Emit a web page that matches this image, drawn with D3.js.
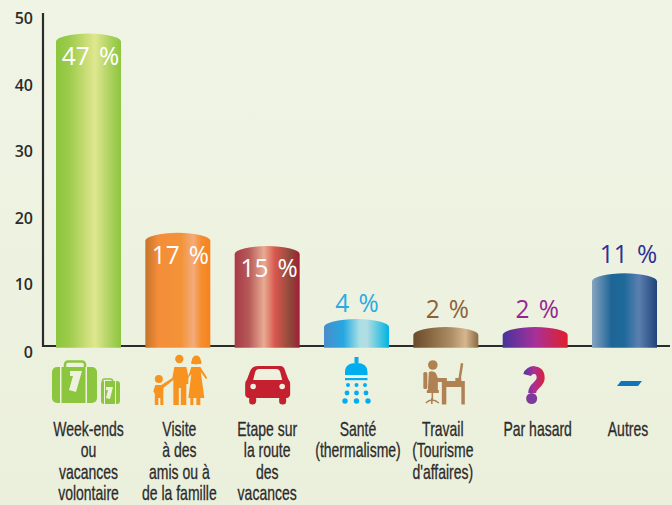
<!DOCTYPE html>
<html><head><meta charset="utf-8">
<script src="https://cdn.jsdelivr.net/npm/d3@7"></script>
<style>html,body{margin:0;padding:0;background:#eef2e0}svg{display:block}</style></head>
<body><div id="c"></div>
<script>
const categories=["w","v","e","s","t","h","a"];
const barTops=[47.2,17.2,15.2,4.2,3,3,11.1];
const valueLabels=["47 %","17 %","15 %","4 %","2 %","2 %","11 %"];
const valueColors=["#fff","#fff","#fff","#29abe2","#8c6239","#93278f","#2e3192"];
const tickLabels=[0,10,20,30,40,50];
const catLines=[
 ["Week-ends","ou","vacances","volontaire"],
 ["Visite","à des","amis ou à","de la famille"],
 ["Etape sur","la route","des","vacances"],
 ["Santé","(thermalisme)"],
 ["Travail","(Tourisme","d'affaires)"],
 ["Par hasard"],
 ["Autres"]];
const catShift=[0,1.5,0,1.5,-3,2.5,3.5];
const valueShift=[2,2.5,2,0.5,1.5,2,4];
const gradients=[
 [[0,"#8cc63f"],[.2,"#9ccb4a"],[.6,"#e0e78f"],[.8,"#b3d465"],[1,"#8cc63f"]],
 [[0,"#c4742a"],[.2,"#f58d3a"],[.55,"#f39338"],[.74,"#f3ac7c"],[.86,"#f68d2e"],[1,"#f5821f"]],
 [[0,"#a83a48"],[.22,"#b65a58"],[.45,"#e8ab92"],[.62,"#d9574e"],[.85,"#8e4a3a"],[1,"#a11c36"]],
 [[0,"#4a8ccb"],[.3,"#26a8e0"],[.55,"#a9e0e5"],[.66,"#b2dde2"],[1,"#00b4e1"]],
 [[0,"#6a4a2b"],[.3,"#8c6c44"],[.6,"#b09068"],[.8,"#d6b68e"],[1,"#8a6a42"]],
 [[0,"#45349a"],[.5,"#a8309a"],[1,"#e0202a"]],
 [[0,"#86a4c0"],[.3,"#1e6596"],[.5,"#1f6a9a"],[.72,"#5b80b0"],[1,"#1f4478"]]];

const W=672,H=505;
const svg=d3.select("#c").append("svg").attr("width",W).attr("height",H);
const defs=svg.append("defs");
const bg=defs.append("linearGradient").attr("id","bg").attr("x1",0).attr("y1",0).attr("x2",0).attr("y2",1);
bg.append("stop").attr("offset",0).attr("stop-color","#f0f4e5");
bg.append("stop").attr("offset",1).attr("stop-color","#ebf0dc");
svg.append("rect").attr("width",W).attr("height",H).attr("fill","url(#bg)");

const x=d3.scaleBand().domain(categories).range([56,657]).paddingInner(.2725);
const y=d3.scaleLinear().domain([0,50]).range([347,15]);
const bw=x.bandwidth(),cap=8;

gradients.forEach((g,i)=>{
 const lg=defs.append("linearGradient").attr("id","g"+i);
 g.forEach(s=>lg.append("stop").attr("offset",s[0]).attr("stop-color",s[1]));
});
const qg=defs.append("linearGradient").attr("id","qg").attr("gradientUnits","userSpaceOnUse")
 .attr("x1",522).attr("x2",546).attr("y1",0).attr("y2",0);
[[0,"#45349a"],[.5,"#a8309a"],[1,"#e0202a"]].forEach(s=>qg.append("stop").attr("offset",s[0]).attr("stop-color",s[1]));

// axes
const yAxis=d3.axisLeft(y).tickValues(tickLabels).tickSize(0).tickPadding(10);
const ya=svg.append("g").attr("transform","translate(43,0)").call(yAxis);
ya.select(".domain").attr("stroke","#2b2b2b").attr("stroke-width",2.2).attr("d","M0,13V347");
ya.selectAll("text").attr("font-family","'Open Sans'").attr("font-size",16).attr("font-weight",600).attr("fill","#2b2b2b").attr("dy","0.55em").attr("y",0)
 .attr("transform",d=>`translate(0,${d===0?2:0})`);
const xa=d3.axisBottom(x).tickSize(0).tickFormat("");
const xg=svg.append("g").attr("transform","translate(0,346)").call(xa);
xg.select(".domain").attr("stroke","#2b2b2b").attr("stroke-width",2.2).attr("d","M42,0H670");

// bars
svg.append("g").selectAll("path").data(categories).join("path")
 .attr("fill",(d,i)=>`url(#g${i})`)
 .attr("d",(d,i)=>{const l=x(d),t=y(barTops[i]);
   return `M${l},${y(0)+.8}V${t+cap}A${bw/2},${cap} 0 0 1 ${l+bw},${t+cap}V${y(0)+.8}Z`;});

// value labels
const valueBase=[65,264,277,312,318,318,263];
svg.append("g").selectAll("text").data(categories).join("text")
 .attr("text-anchor","middle").attr("font-family","'Open Sans'").attr("font-size",26).attr("font-weight",500).attr("word-spacing",3)
 .attr("fill",(d,i)=>valueColors[i])
 .attr("transform",(d,i)=>`translate(${x(d)+bw/2+valueShift[i]},${valueBase[i]}) scale(.94,1)`)
 .text((d,i)=>valueLabels[i]);

// category labels
const lab=svg.append("g");
categories.forEach((c,i)=>{
 lab.append("g").selectAll("text").data(catLines[i]).join("text")
  .attr("text-anchor","middle").attr("font-family","'Liberation Sans'")
  .attr("font-size",20).attr("fill","#2b2b2b").attr("stroke","#2b2b2b").attr("stroke-width",.3)
  .attr("transform",(d,j)=>`translate(${x(c)+bw/2+catShift[i]},${436+j*21.4}) scale(.7,1)`).text(d=>d);
});

// icons (drawn around each category's reference centre)
const refs=[88.5,177.5,267,356.5,446,535.5,624.5];
function icon(i){return svg.append("g").attr("transform",`translate(${x(categories[i])+bw/2-refs[i]},${y(0)-347})`);}
// suitcases
{const g=icon(0),c="#8cc63f";
 g.append("rect").attr("x",52).attr("y",367).attr("width",45).attr("height",36).attr("rx",5).attr("fill",c);
 g.append("rect").attr("x",65).attr("y",361.5).attr("width",20).attr("height",12).attr("rx",3).attr("fill","none").attr("stroke",c).attr("stroke-width",2.5);
 g.append("rect").attr("x",101).attr("y",381).attr("width",19).attr("height",23).attr("rx",3).attr("fill",c);
 g.append("rect").attr("x",102.5).attr("y",379).attr("width",10).attr("height",7).attr("rx",2).attr("fill","none").attr("stroke",c).attr("stroke-width",1.6);
 [[60,367,1.5,36],[85.5,367,1.5,36],[104,381,1,23],[115,381,1,23],[97,396,4,8]].forEach(r=>g.append("rect").attr("x",r[0]).attr("y",r[1]).attr("width",r[2]).attr("height",r[3]).attr("fill","#edf1dd"));
 g.append("path").attr("d","M70,371H82L76,392L69,390L73,376H70Z").attr("fill","#edf1dd");
 g.append("path").attr("d","M106,387H113L110,399L106,398L108,390H106Z").attr("fill","#edf1dd");
}
// family
{const g=icon(1),c="#f7931e";
 [[158.5,379,4],[179,359,4.2],[196,360,4.4]].forEach(p=>g.append("circle").attr("cx",p[0]).attr("cy",p[1]).attr("r",p[2]).attr("fill",c));
 g.append("path").attr("fill",c).attr("d","M155,385H161L172,378L174,367H186L188,376V384L186,384V405H180.5V388H178.5V405H173V380L163,388V405H160V398H158V405H154.5V394L153,391Z");
 g.append("path").attr("fill",c).attr("d","M191,367H200L207,378L205.5,379L200.5,372L204,398H200V405H196V398H193V405H190V398H188L191,374L187,379Z");
 g.append("path").attr("fill",c).attr("d","M191,361Q196,354 201,361V364H191Z");
}
// car
{const g=icon(2),c="#c4202f";
 g.append("path").attr("fill",c).attr("d","M258,366H280Q284,366 285,371L288,379Q290,381 290,385V394Q290,397 287,398H248Q245,397 245,394V385Q245,381 247,379L250,371Q252,366 258,366Z");
 g.append("path").attr("fill","#edf1dd").attr("d","M259,369H276Q279,369 280,372L282,380H253L255,372Q256,369 259,369Z");
 [[253,386.5],[282,386.5]].forEach(p=>g.append("circle").attr("cx",p[0]).attr("cy",p[1]).attr("r",2.8).attr("fill","#edf1dd"));
 [249,279].forEach(a=>g.append("rect").attr("x",a).attr("y",396).attr("width",7).attr("height",8.5).attr("rx",3.2).attr("fill",c));
}
// shower
{const g=icon(3),c="#00aeef";
 g.append("rect").attr("x",354.5).attr("y",357).attr("width",4).attr("height",6).attr("fill",c);
 g.append("path").attr("fill",c).attr("d","M345,375V372Q345,363 356.5,363Q367.500,363 367.500,372V375Z");
 g.append("rect").attr("x",345).attr("y",378).attr("width",22.5).attr("height",2.2).attr("fill",c);
 [[348,385,2],[356.500,385,2],[365,385,2],[347,393,2.4],[356.500,393,2.4],[366,393,2.4],[345,401,2.7],[356.500,401,2.7],[368,401,2.7]]
  .forEach(p=>g.append("circle").attr("cx",p[0]).attr("cy",p[1]).attr("r",p[2]).attr("fill",c));
}
// desk worker
{const g=icon(4),c="#b08253";
 g.append("circle").attr("cx",433).attr("cy",365).attr("r",4.8).attr("fill",c);
 g.append("path").attr("fill",c).attr("d","M429,372Q433,370 436,373L438,378H447V382H438V390H428Z");
 g.append("rect").attr("x",423.500).attr("y",372).attr("width",4).attr("height",17).attr("rx",1.5).attr("fill",c);
 g.append("path").attr("fill",c).attr("d","M442,381H465V404.500H461.500V387H446.500V404.500H442Z");
 g.append("path").attr("fill",c).attr("d","M461,363L463.500,363.500L461,379H458.500Z");
 g.append("rect").attr("x",455.500).attr("y",378).attr("width",6).attr("height",3).attr("fill",c);
 g.append("path").attr("fill","none").attr("stroke",c).attr("stroke-width",1.6).attr("d","M432.500,391V401M426,403Q432,397 439,403M432,398V404");
 g.append("rect").attr("x",427).attr("y",390).attr("width",12).attr("height",3).attr("fill",c);
}
// question mark
{const g=icon(5);
 g.append("path").attr("fill","none").attr("stroke","url(#qg)").attr("stroke-width",8).attr("d","M527.500,375C529,369 541,367 541,378C541,385 532.500,385 532.500,393");
 g.append("circle").attr("cx",532).attr("cy",398.500).attr("r",5.500).attr("fill","#7d3a9a");
}
// dash
{const g=icon(6);
 g.append("path").attr("fill","#0f75bc").attr("d","M617,386L621,381H642L638,386Z");
}
</script></body></html>
